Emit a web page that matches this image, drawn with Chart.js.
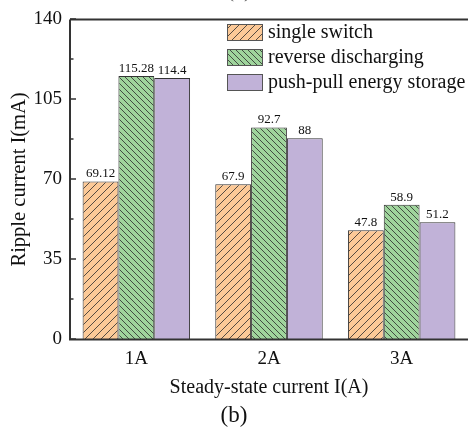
<!DOCTYPE html>
<html>
<head>
<meta charset="utf-8">
<script src="https://cdn.jsdelivr.net/npm/chart.js@4.4.1/dist/chart.umd.min.js"></script>
<style>
  body { margin: 0; background: #fff; }
  #box { width: 468px; height: 433px; }
</style>
</head>
<body>
<div id="box"><canvas id="myChart" width="468" height="433"></canvas></div>
<script>
var categories = ["1A", "2A", "3A"];
var singleSwitch = [69.12, 67.9, 47.8];
var reverseDischarging = [115.28, 92.7, 58.9];
var pushPull = [114.4, 88, 51.2];
var seriesNames = ["single switch", "reverse discharging", "push-pull energy storage"];
var yTicks = [0, 35, 70, 105, 140];
var yMinorTicks = [17.5, 52.5, 87.5, 122.5];

var serif = "'Liberation Serif', 'Times New Roman', serif";

// hatch pattern, dir 1 = "/", dir -1 = "\"
function hatch(bg, size, dir) {
    var c = document.createElement("canvas");
    c.width = size;
    c.height = size;
    var x = c.getContext("2d");
    x.fillStyle = bg;
    x.fillRect(0, 0, size, size);
    x.strokeStyle = "#2b2b2b";
    x.lineWidth = 0.8;
    x.beginPath();
    for (var k = -1; k <= 1; k++) {
        if (dir > 0) {
            x.moveTo(k * size - 1, size + 1);
            x.lineTo(k * size + size + 1, -1);
        } else {
            x.moveTo(k * size - 1, -1);
            x.lineTo(k * size + size + 1, size + 1);
        }
    }
    x.stroke();
    return x.createPattern(c, "repeat");
}

var orangeFill = "#fcc997";
var greenFill = "#9fd49c";
var purpleFill = "#c1b2d8";

var legendColors = [hatch(orangeFill, 8, 1), hatch(greenFill, 6, -1), purpleFill];

var framePlugin = {
    id: "frame",
    afterDraw: function (chart) {
        var ctx = chart.ctx;
        var a = chart.chartArea;
        var y = chart.scales.y;
        ctx.save();
        ctx.strokeStyle = "#333";
        ctx.lineWidth = 2;
        ctx.beginPath();
        ctx.moveTo(a.left, a.top);
        ctx.lineTo(a.right, a.top);
        ctx.moveTo(a.left, a.top);
        ctx.lineTo(a.left, a.bottom);
        ctx.lineTo(a.right, a.bottom);
        ctx.stroke();
        ctx.lineWidth = 1.5;
        ctx.beginPath();
        yTicks.forEach(function (v) {
            var py = Math.round(y.getPixelForValue(v));
            ctx.moveTo(a.left, py);
            ctx.lineTo(a.left + 6, py);
        });
        yMinorTicks.forEach(function (v) {
            var py = Math.round(y.getPixelForValue(v));
            ctx.moveTo(a.left, py);
            ctx.lineTo(a.left + 3.5, py);
        });
        ctx.stroke();

        // value labels
        ctx.fillStyle = "#111";
        ctx.font = "13px " + serif;
        ctx.textAlign = "center";
        ctx.textBaseline = "bottom";
        chart.data.datasets.forEach(function (ds, i) {
            chart.getDatasetMeta(i).data.forEach(function (el, j) {
                ctx.fillText(String(ds.data[j]), el.x, el.y - 1);
            });
        });

        // legend
        ctx.font = "20px " + serif;
        ctx.textAlign = "left";
        ctx.textBaseline = "middle";
        chart.data.datasets.forEach(function (ds, i) {
            var ly = 24 + i * 25;
            ctx.fillStyle = legendColors[i];
            ctx.fillRect(227, ly, 36, 17);
            ctx.strokeStyle = "#555";
            ctx.lineWidth = 1;
            ctx.strokeRect(227.5, ly + 0.5, 35, 16);
            ctx.fillStyle = "#111";
            ctx.fillText(ds.label, 268, ly + 9);
        });

        // partly cut panel label at the top
        ctx.font = "22px " + serif;
        ctx.textAlign = "center";
        ctx.textBaseline = "alphabetic";
        ctx.fillStyle = "#666";
        ctx.fillText("(a)", 239, -3);
        ctx.restore();
    }
};

new Chart("myChart", {
    type: "bar",
    data: {
        labels: categories,
        datasets: [{
            label: seriesNames[0],
            data: singleSwitch,
            backgroundColor: hatch(orangeFill, 8, 1),
            borderColor: "#333",
            borderWidth: 1
        }, {
            label: seriesNames[1],
            data: reverseDischarging,
            backgroundColor: hatch(greenFill, 6, -1),
            borderColor: "#333",
            borderWidth: 1
        }, {
            label: seriesNames[2],
            data: pushPull,
            backgroundColor: purpleFill,
            borderColor: "#333",
            borderWidth: 1
        }]
    },
    options: {
        responsive: false,
        animation: false,
        devicePixelRatio: 1,
        categoryPercentage: 0.81,
        barPercentage: 1.0,
        layout: { padding: { top: 15, right: 0, left: 0, bottom: 0 } },
        plugins: {
            legend: { display: false },
            tooltip: { enabled: false },
            title: {
                display: true,
                position: "bottom",
                text: "(b)",
                color: "#111",
                font: { family: serif, size: 23, weight: "normal" },
                padding: { top: 2, bottom: 3 }
            }
        },
        scales: {
            x: {
                grid: { display: false, drawTicks: false },
                border: { display: false },
                ticks: { color: "#111", font: { family: serif, size: 19 }, padding: 8 },
                title: {
                    display: true,
                    text: "Steady-state current I(A)",
                    color: "#111",
                    font: { family: serif, size: 20 },
                    padding: { top: 0, bottom: 1 }
                },
                afterFit: function (s) { s.height = 433 - 339 - 33; }
            },
            y: {
                min: 0,
                max: 140,
                grid: { display: false, drawTicks: false },
                border: { display: false },
                afterBuildTicks: function (s) {
                    s.ticks = yTicks.map(function (v) { return { value: v }; });
                },
                ticks: { color: "#111", font: { family: serif, size: 19 }, padding: 8 },
                title: {
                    display: true,
                    text: "Ripple current I(mA)",
                    color: "#111",
                    font: { family: serif, size: 20.5 },
                    padding: { top: 7, bottom: 0 }
                },
                afterFit: function (s) { s.width = 70; }
            }
        }
    },
    plugins: [framePlugin]
});
</script>
</body>
</html>
